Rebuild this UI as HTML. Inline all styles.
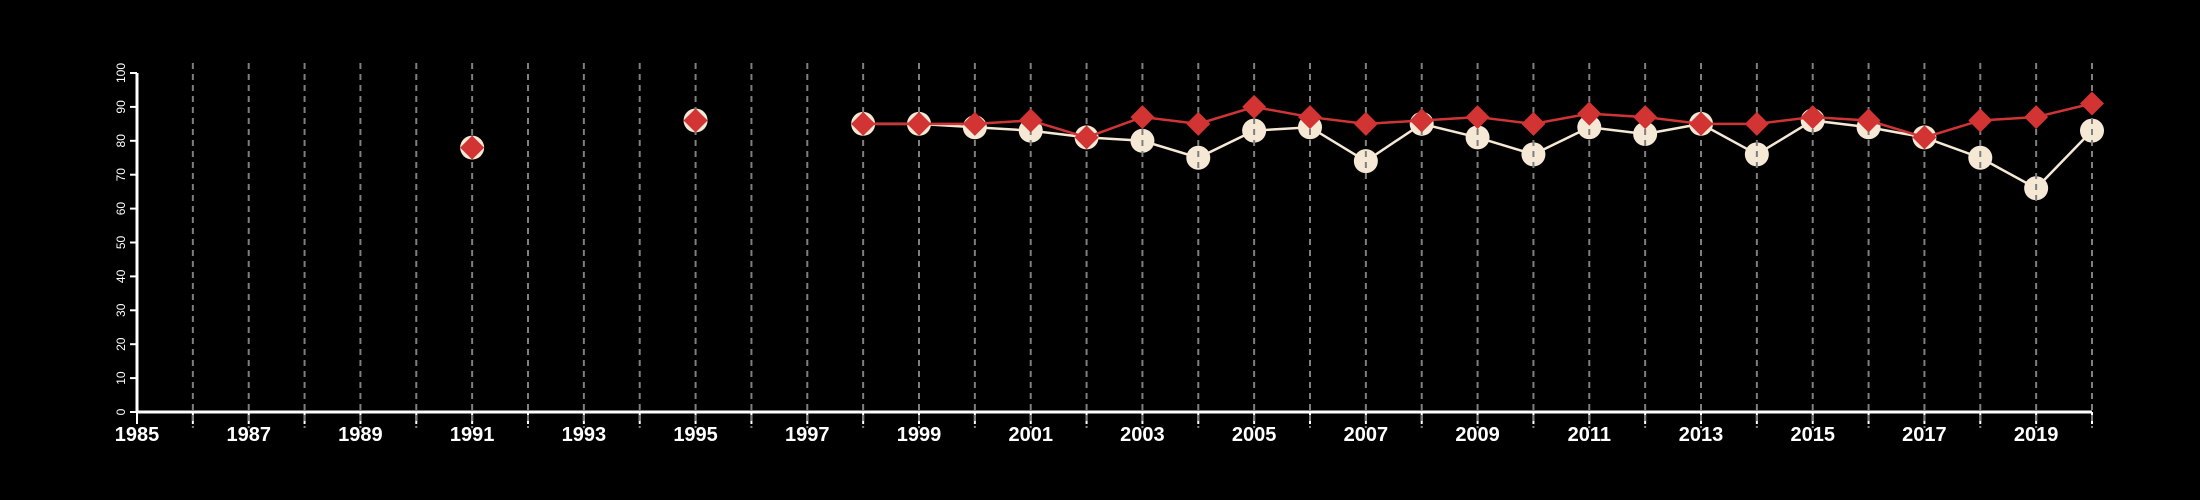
<!DOCTYPE html>
<html><head><meta charset="utf-8"><style>
html,body{margin:0;padding:0;background:#000;width:2200px;height:500px;overflow:hidden}
svg text{font-family:"Liberation Sans",sans-serif;fill:#fff}
</style></head><body>
<svg id="chart" width="2200" height="500" xmlns="http://www.w3.org/2000/svg"></svg>
<script>
const years = [1991,1995,1998,1999,2000,2001,2002,2003,2004,2005,2006,2007,2008,2009,2010,2011,2012,2013,2014,2015,2016,2017,2018,2019,2020];
const seriesCircle = [78,86,85,85,84,83,81,80,75,83,84,74,85,81,76,84,82,85,76,86,84,81,75,66,83];
const seriesDiamond = [78,86,85,85,85,86,81,87,85,90,87,85,86,87,85,88,87,85,85,87,86,81,86,87,91];
const xTickLabels = [1985,1987,1989,1991,1993,1995,1997,1999,2001,2003,2005,2007,2009,2011,2013,2015,2017,2019];
const yTickLabels = [0,10,20,30,40,50,60,70,80,90,100];

const NS="http://www.w3.org/2000/svg";
const svg=document.getElementById('chart');
const X0=137,X1=2092,Y0=412,Y1=73,YR0=1985,YR1=2020;
const xs=y=>X0+(y-YR0)*(X1-X0)/(YR1-YR0);
const ys=v=>Y0-v*(Y0-Y1)/100;
function mk(tag,attrs,parent){const e=document.createElementNS(NS,tag);for(const k in attrs)e.setAttribute(k,attrs[k]);(parent||svg).appendChild(e);return e;}

const ax=mk('line',{x1:X0,y1:Y0,x2:X1,y2:Y0,stroke:'#fff','stroke-width':3});


const ay=mk('line',{x1:X0,y1:Y0,x2:X0,y2:Y1,stroke:'#fff','stroke-width':3});


yTickLabels.forEach(v=>{
  const t=mk('line',{x1:X0-7,y1:ys(v),x2:X0,y2:ys(v),stroke:'#fff','stroke-width':2});
  
  
  const tx=mk('text',{x:0,y:0,'font-size':12,'text-anchor':'middle',transform:`translate(${X0-16},${ys(v)}) rotate(-90)`,'dominant-baseline':'central'});
  tx.textContent=v;
  
  
});
for(let yr=YR0;yr<=YR1;yr++){
  const t=mk('line',{x1:xs(yr),y1:Y0,x2:xs(yr),y2:Y0+12,stroke:'#fff','stroke-width':2});
  
  
}
xTickLabels.forEach(yr=>{
  const tx=mk('text',{x:xs(yr),y:441,'font-size':20,'font-weight':'bold','text-anchor':'middle'});
  tx.textContent=yr;
  
  
});

function pathFor(vals){let d='';let prev=null;years.forEach((yr,i)=>{if(yr<1998)return;d+=(prev===null?'M':'L')+xs(yr)+','+ys(vals[i]);prev=yr;});return d;}
const wl=mk('path',{d:pathFor(seriesCircle),fill:'none',stroke:'#f5e8d5','stroke-width':2.5});


years.forEach((yr,i)=>{
  const c=mk('circle',{cx:xs(yr),cy:ys(seriesCircle[i]),r:12,fill:'#f5e8d5'});
  
  
});
for(let yr=YR0+1;yr<=YR1;yr++){
  const g=mk('line',{x1:xs(yr),y1:63,x2:xs(yr),y2:428,stroke:'#7f7f7f','stroke-width':2,'stroke-dasharray':'6 5'});
  
  
}
const rl=mk('path',{d:pathFor(seriesDiamond),fill:'none',stroke:'#cf3535','stroke-width':2.5});


years.forEach((yr,i)=>{
  const x=xs(yr),y=ys(seriesDiamond[i]),s=12;
  const d=mk('polygon',{points:`${x},${y-s} ${x+s},${y} ${x},${y+s} ${x-s},${y}`,fill:'#d23333'});
  
  
});
</script>
</body></html>
